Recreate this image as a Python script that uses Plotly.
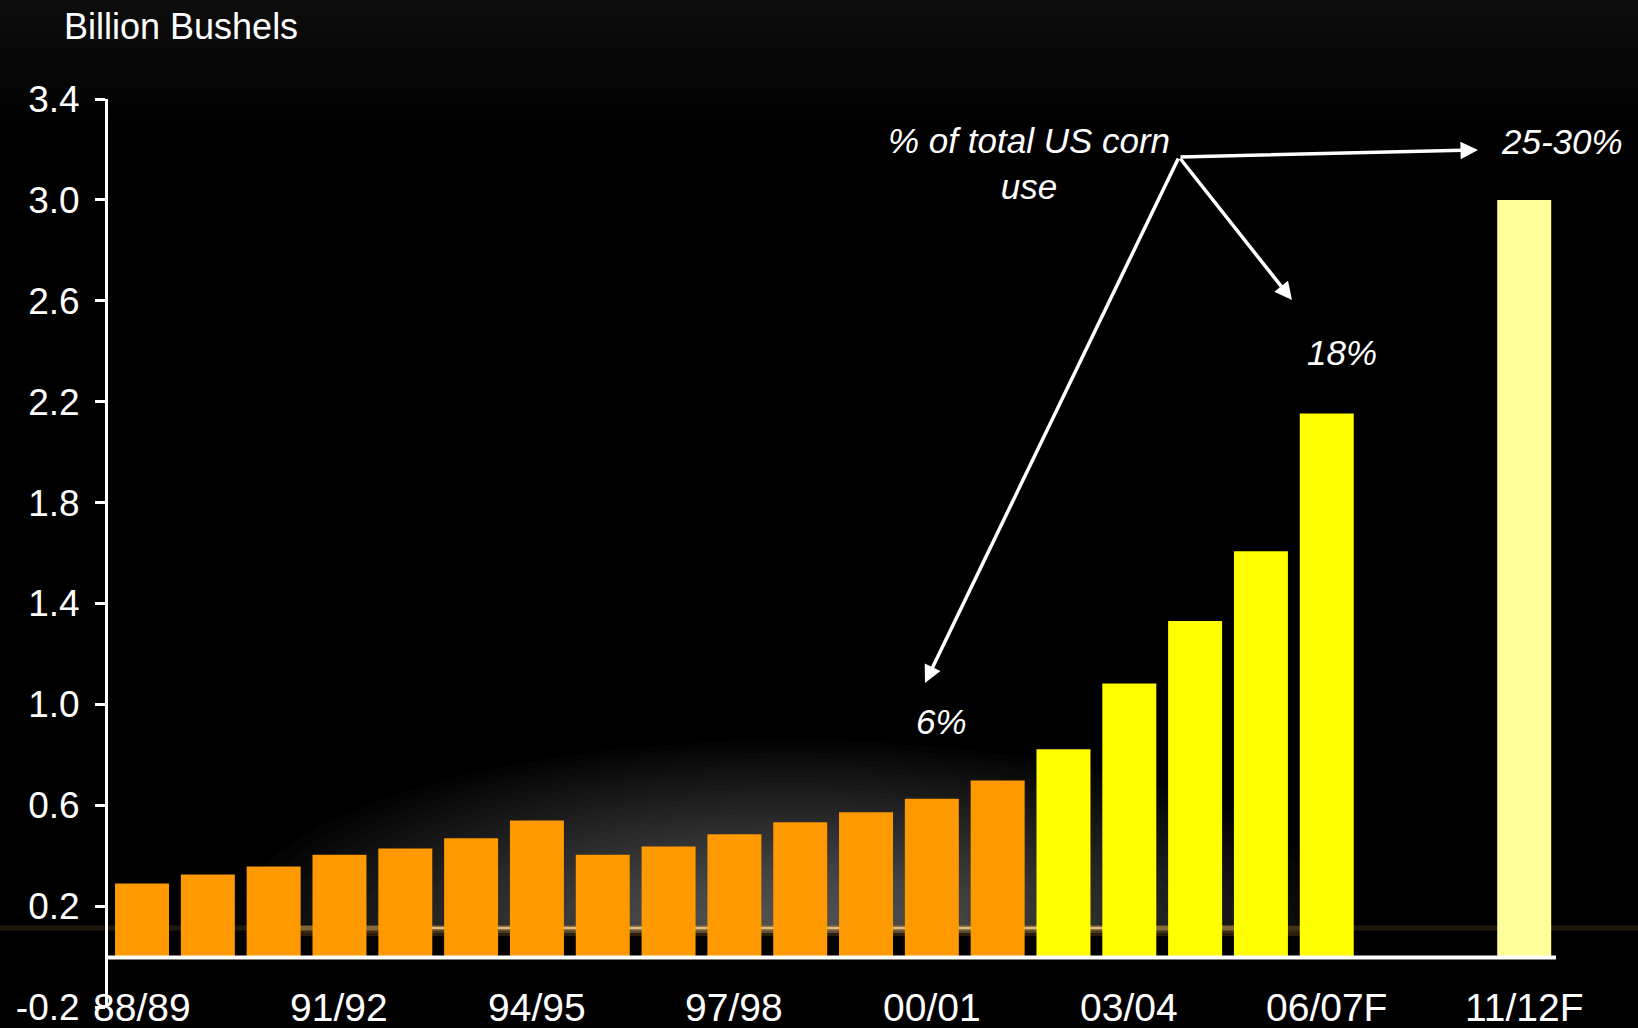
import plotly.graph_objects as go

# ---------------- data ----------------
seasons = ["88/89", "89/90", "90/91", "91/92", "92/93", "93/94", "94/95", "95/96",
           "96/97", "97/98", "98/99", "99/00", "00/01", "01/02", "02/03", "03/04",
           "04/05", "05/06", "06/07F", "11/12F"]
ethanol_use = [0.29, 0.325, 0.357, 0.404, 0.428, 0.469, 0.539, 0.404, 0.436, 0.485,
               0.532, 0.572, 0.626, 0.698, 0.822, 1.083, 1.33, 1.607, 2.153, 3.0]
bar_colors = ["#FF9900"] * 14 + ["#FFFF00"] * 5 + ["#FFFF99"]
gap_slots = [" ", "  "]
axis_order = seasons[:19] + gap_slots + seasons[19:]
tick_labels = ["88/89", "91/92", "94/95", "97/98", "00/01", "03/04", "06/07F", "11/12F"]
y_ticks = [-0.2, 0.2, 0.6, 1.0, 1.4, 1.8, 2.2, 2.6, 3.0, 3.4]

# ---------------- layout geometry ----------------
W, H = 1638, 1028
ML, MR, MT, MB = 108, 82, 99, 21
PW, PH = W - ML - MR, H - MT - MB


def px(x):
    return (x - ML) / PW


def py(y):
    return (H - MB - y) / PH


SANS = "Liberation Sans, Arial, Helvetica, sans-serif"

fig = go.Figure()
fig.add_trace(go.Bar(
    x=seasons, y=ethanol_use,
    marker=dict(color=bar_colors, line=dict(width=0)),
    hoverinfo="x+y", showlegend=False,
))

shapes = []
# top background gradient
for k in range(1, 13):
    shapes.append(dict(type="rect", xref="paper", yref="paper", layer="below",
                       x0=px(0), x1=px(W), y0=py(0), y1=py(k * 10),
                       fillcolor="rgba(255,255,255,0.0065)", line=dict(width=0)))
# soft grey glow behind bars
N = 28
for i in range(N):
    f = 1 - i / N * 0.9
    rx, ry = 560 * f, 190 * f
    cx, cy = 790, 930
    shapes.append(dict(type="circle", xref="paper", yref="paper", layer="below",
                       x0=px(cx - rx), x1=px(cx + rx), y0=py(cy - ry), y1=py(cy + ry),
                       fillcolor="rgba(255,255,255,0.017)", line=dict(width=0)))
# black band under the glow line
shapes.append(dict(type="rect", xref="paper", yref="paper", layer="below",
                   x0=px(0), x1=px(W), y0=py(933), y1=py(H),
                   fillcolor="#000000", line=dict(width=0)))
# golden glow line
for x0, x1, col, wd, yy in [
    (0, W, "rgba(150,110,50,0.22)", 5, 928),
    (250, 1300, "rgba(120,85,30,0.35)", 10, 931),
    (300, 1250, "rgba(200,160,90,0.45)", 5, 928),
    (380, 1150, "rgba(240,205,140,0.85)", 2, 928),
]:
    shapes.append(dict(type="line", xref="paper", yref="paper", layer="below",
                       x0=px(x0), x1=px(x1), y0=py(yy), y1=py(yy),
                       line=dict(color=col, width=wd)))
# x axis baseline at zero
shapes.append(dict(type="line", xref="paper", yref="y", layer="above",
                   x0=0, x1=1, y0=-0.004, y1=-0.004,
                   line=dict(color="white", width=4)))

annotations = []
# x tick labels at the -0.2 level
for lab in tick_labels:
    annotations.append(dict(x=lab, y=-0.2, xref="x", yref="y", text=lab,
                            showarrow=False, xanchor="center", yanchor="middle",
                            font=dict(family=SANS, size=39, color="white")))
# unit title
annotations.append(dict(x=px(62), y=py(26), xref="paper", yref="paper",
                        text="Billion Bushels", showarrow=False,
                        xanchor="left", yanchor="middle",
                        font=dict(family=SANS, size=36, color="white")))
# callout text
ital = dict(family=SANS, size=35, color="white", style="italic")
annotations.append(dict(x=px(1029), y=py(163), xref="paper", yref="paper",
                        text="% of total US corn<br>use", showarrow=False,
                        xanchor="center", yanchor="middle", font=ital))
for txt, cx, cy in [("25-30%", 1562, 142), ("18%", 1342, 352), ("6%", 942, 721)]:
    annotations.append(dict(x=px(cx), y=py(cy), xref="paper", yref="paper",
                            text=txt, showarrow=False, xanchor="center",
                            yanchor="middle", font=ital))
# arrows from a common origin
ox, oy = 1179, 157
for tx, ty in [(1478, 150), (1292, 300), (925, 683)]:
    annotations.append(dict(x=px(tx), y=py(ty), xref="paper", yref="paper",
                            ax=ox - tx, ay=oy - ty, axref="pixel", ayref="pixel",
                            text="", showarrow=True, arrowhead=2, arrowsize=1,
                            arrowwidth=3.5, arrowcolor="white"))

fig.update_layout(
    width=W, height=H, autosize=False,
    margin=dict(l=ML, r=MR, t=MT, b=MB, pad=0, autoexpand=False),
    paper_bgcolor="#000000", plot_bgcolor="rgba(0,0,0,0)",
    bargap=0.18,
    shapes=shapes, annotations=annotations,
    xaxis=dict(type="category", categoryorder="array", categoryarray=axis_order,
               range=[-0.517, 21.483], showticklabels=False, ticks="",
               showgrid=False, zeroline=False, showline=False, fixedrange=True,
               automargin=False),
    yaxis=dict(range=[-0.2, 3.4], tickvals=y_ticks,
               ticktext=[f"{v:.1f}" for v in y_ticks],
               ticks="outside", ticklen=10, tickwidth=3, tickcolor="white",
               showline=True, linewidth=3, linecolor="white",
               showgrid=False, zeroline=False, automargin=False,
               tickfont=dict(family=SANS, size=37, color="white"),
               ticklabelstandoff=8),
)

fig.write_html("out.html")
